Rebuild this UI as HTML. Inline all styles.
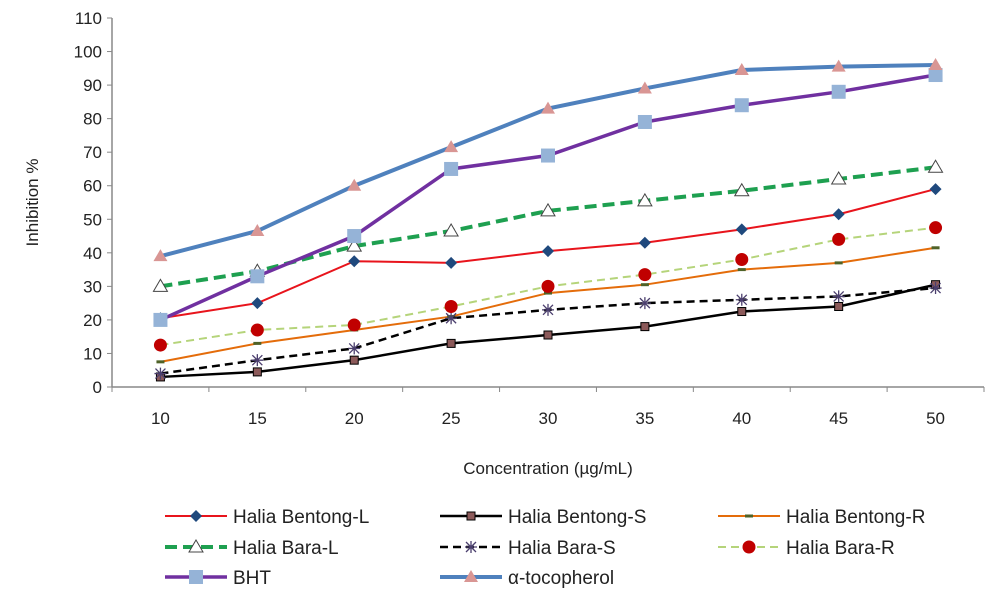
<!DOCTYPE html>
<html><head><meta charset="utf-8"><style>
body{margin:0;background:#fff;font-family:"Liberation Sans",sans-serif;}
svg text{font-family:"Liberation Sans",sans-serif;fill:#222;}
</style></head><body>
<svg id="c" width="1000" height="602" xmlns="http://www.w3.org/2000/svg"></svg>
<script>
const categories=[10,15,20,25,30,35,40,45,50];
const yTicks=[0,10,20,30,40,50,60,70,80,90,100,110];
const bentongL=[20.5,25,37.5,37,40.5,43,47,51.5,59];
const bentongS=[3,4.5,8,13,15.5,18,22.5,24,30.5];
const bentongR=[7.5,13,17,21,28,30.5,35,37,41.5];
const baraL=[30,34.5,42,46.5,52.5,55.5,58.5,62,65.5];
const baraS=[4,8,11.5,20.5,23,25,26,27,29.5];
const baraR=[12.5,17,18.5,24,30,33.5,38,44,47.5];
const bht=[20,33,45,65,69,79,84,88,93];
const toco=[39,46.5,60,71.5,83,89,94.5,95.5,96];
const seriesNames=["Halia Bentong-L","Halia Bentong-S","Halia Bentong-R","Halia Bara-L","Halia Bara-S","Halia Bara-R","BHT","α-tocopherol"];

const NS="http://www.w3.org/2000/svg";
const svg=document.getElementById('c');
const X0=112,X1=984,Y0=387,Y1=18;
const bw=(X1-X0)/categories.length;
const x=i=>X0+bw*(i+0.5);
const y=v=>Y0-(v/110)*(Y0-Y1);
function mk(t,a,p){const e=document.createElementNS(NS,t);for(const k in a)e.setAttribute(k,a[k]);(p||svg).appendChild(e);return e;}

// axes
const ax=mk('g',{});


mk('line',{x1:X0,y1:Y1,x2:X0,y2:Y0,stroke:'#888','stroke-width':1.5},ax);
mk('line',{x1:X0,y1:Y0,x2:X1,y2:Y0,stroke:'#888','stroke-width':1.5},ax);
yTicks.forEach(t=>{
  mk('line',{x1:X0-5,y1:y(t),x2:X0,y2:y(t),stroke:'#888'},ax);
  const tx=mk('text',{x:X0-10,y:y(t)+6,'text-anchor':'end','font-size':17},ax);tx.textContent=t;
  
  
});
for(let i=0;i<=categories.length;i++)mk('line',{x1:X0+bw*i,y1:Y0,x2:X0+bw*i,y2:Y0+5,stroke:'#888'},ax);
categories.forEach((c,i)=>{
  const tx=mk('text',{x:x(i),y:Y0+37,'text-anchor':'middle','font-size':17},ax);tx.textContent=c;
  
  
});
const yt=mk('text',{x:0,y:0,'text-anchor':'middle','font-size':17,transform:`translate(38,${(Y0+Y1)/2}) rotate(-90)`});yt.textContent='Inhibition %';


const xt=mk('text',{x:548,y:474,'text-anchor':'middle','font-size':17});xt.textContent='Concentration (µg/mL)';



function marker(g,type,cx,cy){
  if(type==='diamond')mk('path',{d:`M${cx},${cy-6}L${cx+6},${cy}L${cx},${cy+6}L${cx-6},${cy}Z`,fill:'#1f497d'},g);
  else if(type==='sq')mk('rect',{x:cx-4,y:cy-4,width:8,height:8,fill:'#8c5a5a',stroke:'#000','stroke-width':1},g);
  else if(type==='dash')mk('rect',{x:cx-4,y:cy-1.5,width:8,height:3,fill:'#4f6228'},g);
  else if(type==='tri')mk('path',{d:`M${cx},${cy-7}L${cx+7},${cy+5}L${cx-7},${cy+5}Z`,fill:'#fff',stroke:'#444','stroke-width':1},g);
  else if(type==='star'){mk('path',{d:`M${cx-6},${cy}H${cx+6}M${cx-5},${cy-5}L${cx+5},${cy+5}M${cx-5},${cy+5}L${cx+5},${cy-5}M${cx},${cy-6}V${cy+6}`,stroke:'#4b3f6e','stroke-width':1.3},g);}
  else if(type==='circ')mk('circle',{cx,cy,r:6.5,fill:'#c00000'},g);
  else if(type==='bigsq')mk('rect',{x:cx-7,y:cy-7,width:14,height:14,fill:'#95b3d7'},g);
  else if(type==='ptri')mk('path',{d:`M${cx},${cy-7}L${cx+7},${cy+5}L${cx-7},${cy+5}Z`,fill:'#d99694'},g);
}
const specs=[
 {d:bentongL,c:'#e8141c',w:2,dash:'',m:'diamond'},
 {d:bentongS,c:'#000',w:2.5,dash:'',m:'sq'},
 {d:bentongR,c:'#e46c0a',w:2,dash:'',m:'dash'},
 {d:baraL,c:'#1ea050',w:4,dash:'12,6',m:'tri'},
 {d:baraS,c:'#000',w:2.5,dash:'8,5',m:'star'},
 {d:baraR,c:'#b5d47a',w:2,dash:'8,5',m:'circ'},
 {d:bht,c:'#7030a0',w:3.5,dash:'',m:'bigsq'},
 {d:toco,c:'#4f81bd',w:4,dash:'',m:'ptri'}
];
specs.forEach((s,k)=>{
  const g=mk('g',{});
  
  
  mk('polyline',{points:s.d.map((v,i)=>x(i)+','+y(v)).join(' '),fill:'none',stroke:s.c,'stroke-width':s.w,'stroke-dasharray':s.dash},g);
  s.d.forEach((v,i)=>marker(g,s.m,x(i),y(v)));
});
// legend
const cols=[165,440,718],rows=[516,547,577];
specs.forEach((s,k)=>{
  const g=mk('g',{});
  
  
  const lx=cols[k%3],ly=rows[Math.floor(k/3)];
  mk('line',{x1:lx,y1:ly,x2:lx+62,y2:ly,stroke:s.c,'stroke-width':s.w,'stroke-dasharray':s.dash},g);
  marker(g,s.m,lx+31,ly);
  const t=mk('text',{x:lx+68,y:ly+7,'font-size':19},g);t.textContent=seriesNames[k];
});
</script>
</body></html>
